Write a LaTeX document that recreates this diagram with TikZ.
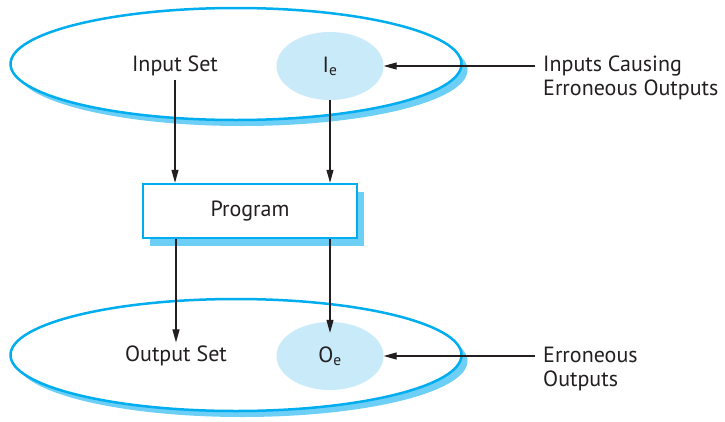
\documentclass[tikz,border=0pt]{standalone}
\usepackage{fontspec}
\setmainfont{PT Sans}
\usetikzlibrary{positioning, arrows.meta, shapes.geometric, shadows}
\definecolor{contour}{HTML}{00AEEF}
\definecolor{ombre}{HTML}{6DCFF6}
\definecolor{sousens}{HTML}{C8EAF9}
\definecolor{encre}{HTML}{231F20}

\begin{document}
\begin{tikzpicture}[
  x=1pt, y=-1pt,
  font=\fontsize{22}{24}\selectfont, text=encre,
  ensemble/.style={ellipse, draw=contour, line width=2.5pt, fill=white, inner sep=0pt,
                   minimum width=451pt, minimum height=112pt,
                   general shadow={fill=ombre, shadow xshift=6pt, shadow yshift=-6pt}},
  partie/.style={ellipse, fill=sousens, inner sep=0pt, minimum width=107pt, minimum height=68pt},
  boite/.style={draw=contour, line width=2.5pt, fill=white,
                minimum width=214pt, minimum height=54pt,
                general shadow={fill=ombre, shadow xshift=7pt, shadow yshift=-8pt}},
  legende/.style={align=left, anchor=west, inner sep=4pt},
  fl/.style={-{Triangle[length=13pt, width=7pt]}, encre, line width=1.1pt},
]
\useasboundingbox (0,0) rectangle (725,421);
% ensemble des entrees
\node[ensemble] (entrees) at (236,64) {};
\node[partie] (ie) at (330,66) {I\textsubscript{e}};
\node (inset) at (175,66) {Input Set};
% le programme
\node[boite] (prog) at (250,211) {Program};
% ensemble des sorties
\node[ensemble] (sorties) at (236,355) {};
\node[partie] (oe) at (330,356) {O\textsubscript{e}};
\node (outset) at (176,356) {Output Set};
% legendes
\node[legende] (lgin) at (539,78) {Inputs Causing\\Erroneous Outputs};
\node[legende] (lgout) at (539,369) {Erroneous\\Outputs};
% fleches
\draw[fl] (inset) -- (inset |- prog.north);
\draw[fl] (ie) -- (ie |- prog.north);
\draw[fl] (prog.south -| outset) -- (outset);
\draw[fl] (prog.south -| oe) -- ([yshift=-11pt]oe.north);
\draw[fl] ([xshift=-4pt]lgin.west |- ie) -- (ie.east);
\draw[fl] ([xshift=-4pt]lgout.west |- oe) -- (oe.east);
\end{tikzpicture}
\end{document}
